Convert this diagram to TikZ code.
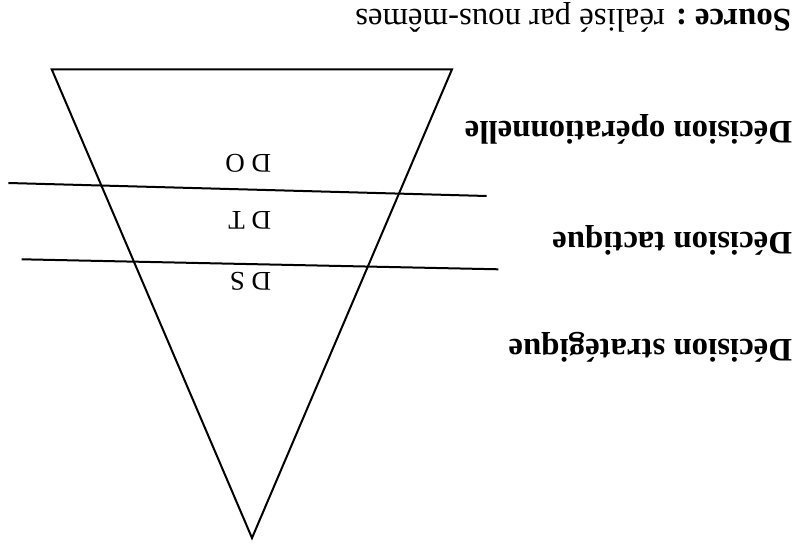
\documentclass[tikz,border=0pt]{standalone}
\usepackage{fontspec}
\setmainfont{Liberation Serif}
\usetikzlibrary{calc,positioning}

\begin{document}
\begin{tikzpicture}[x=0.5pt,y=-0.5pt,line width=1pt,
    flip/.style={rotate=180,inner sep=0pt,anchor=base west},
    level/.style={flip,font=\fontsize{13.5}{16}\selectfont},
    decision/.style={flip,font=\fontsize{16.4}{20}\selectfont\bfseries}]
    \useasboundingbox (0,0) rectangle (804,545);

    \coordinate (TL) at (51.7,69.3);
    \coordinate (TR) at (452,69.3);
    \coordinate (A) at (252,538);
    \coordinate (L1a) at (8.3,183);
    \coordinate (L1b) at (486.7,196);
    \coordinate (L2a) at (21.7,259.3);
    \coordinate (L2b) at (498.3,269.3);

    \draw (TL) -- (TR) -- (A) -- cycle;
    \draw (L1a) -- (L1b);
    \draw (L2a) -- (L2b);

    \node[level] (DO) at (272,155) {D O};
    \node[level] (DT) at (272,212) {D T};
    \node[level] (DS) at (272,273) {D S};

    \node[decision] (op) at (793,122) {Décision opérationnelle};
    \node[decision] (tac) at (793,233) {Décision tactique};
    \node[decision] (str) at (793,340) {Décision stratégique};

    \node[flip,font=\fontsize{16.4}{20}\selectfont] (src) at (792,10) {\textbf{Source :} réalisé par nous-mêmes};
  \end{tikzpicture}
\end{document}
